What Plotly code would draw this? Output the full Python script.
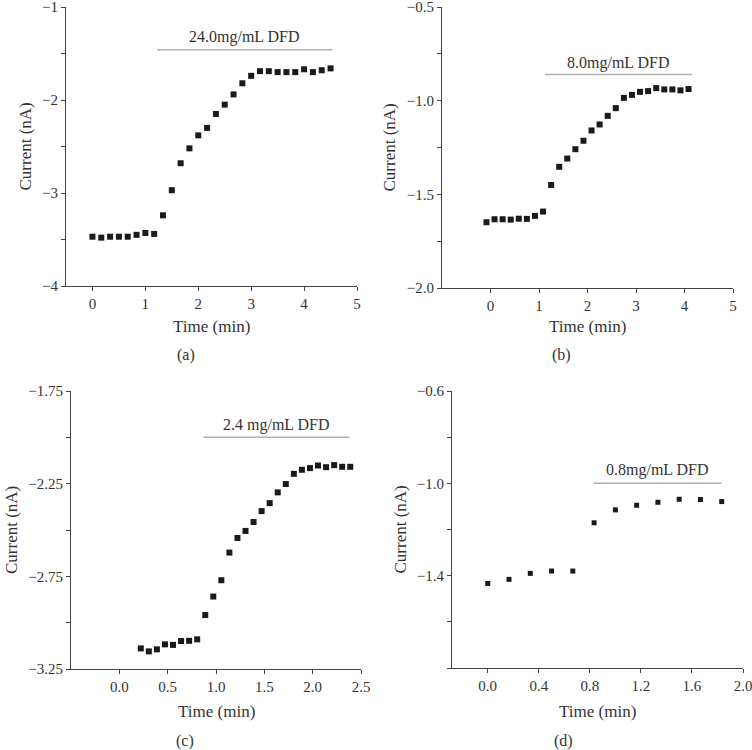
import plotly.graph_objects as go

# ---- data ----
# (a) 24.0 mg/mL DFD, sampled every 10 s
time_a = [i / 6 for i in range(28)]
current_a = [-3.47, -3.48, -3.47, -3.47, -3.47, -3.45, -3.43, -3.44, -3.24, -2.97,
             -2.68, -2.52, -2.38, -2.30, -2.15, -2.05, -1.94, -1.82, -1.74, -1.69,
             -1.69, -1.70, -1.70, -1.70, -1.67, -1.70, -1.68, -1.66]
bar_a = [1.22, 4.54]
bar_level_a = -1.46
label_a = "24.0mg/mL DFD"

# (b) 8.0 mg/mL DFD
time_b = [(i - 0.5) / 6 for i in range(26)]
current_b = [-1.649, -1.633, -1.633, -1.635, -1.630, -1.631, -1.615, -1.592, -1.450, -1.353,
             -1.309, -1.259, -1.214, -1.159, -1.127, -1.081, -1.040, -0.985, -0.969, -0.953,
             -0.949, -0.933, -0.940, -0.940, -0.945, -0.938]
bar_b = [1.12, 4.16]
bar_level_b = -0.86
label_b = "8.0mg/mL DFD"

# (c) 2.4 mg/mL DFD, sampled every 5 s
time_c = [0.222 + i / 12 for i in range(27)]
current_c = [-3.139, -3.155, -3.144, -3.117, -3.120, -3.099, -3.098, -3.090, -2.959, -2.859,
             -2.771, -2.622, -2.543, -2.505, -2.457, -2.398, -2.355, -2.297, -2.252, -2.197,
             -2.175, -2.166, -2.152, -2.161, -2.150, -2.159, -2.159]
bar_c = [0.87, 2.38]
bar_level_c = -2.0
label_c = "2.4 mg/mL DFD"

# (d) 0.8 mg/mL DFD
time_d = [i / 6 for i in range(12)]
current_d = [-1.434, -1.416, -1.390, -1.380, -1.380, -1.171, -1.115, -1.095, -1.082, -1.069,
             -1.070, -1.079]
bar_d = [0.83, 1.83]
bar_level_d = -1.0
label_d = "0.8mg/mL DFD"

# axis ticks
xticks_a = [0, 1, 2, 3, 4, 5]
yticks_a = [-1, -1.5, -2, -2.5, -3, -3.5, -4]
ylabels_a = ["\u22121", "", "\u22122", "", "\u22123", "", "\u22124"]

xticks_b = [0, 1, 2, 3, 4, 5]
yticks_b = [-0.5, -0.75, -1.0, -1.25, -1.5, -1.75, -2.0]
ylabels_b = ["\u22120.5", "", "\u22121.0", "", "\u22121.5", "", "\u22122.0"]

xticks_c = [0.0, 0.5, 1.0, 1.5, 2.0, 2.5]
xlabels_c = ["0.0", "0.5", "1.0", "1.5", "2.0", "2.5"]
yticks_c = [-1.75, -2.0, -2.25, -2.5, -2.75, -3.0, -3.25]
ylabels_c = ["\u22121.75", "", "\u22122.25", "", "\u22122.75", "", "\u22123.25"]

xticks_d = [0.0, 0.4, 0.8, 1.2, 1.6, 2.0]
xlabels_d = ["0.0", "0.4", "0.8", "1.2", "1.6", "2.0"]
yticks_d = [-0.6, -0.8, -1.0, -1.2, -1.4, -1.6, -1.8]
ylabels_d = ["\u22120.6", "", "\u22121.0", "", "\u22121.4", "", ""]

FONT = "Liberation Serif, DejaVu Serif, serif"
TEXT = "#333333"
AXIS = "#444444"
BAR = "#b0b0b0"
MARK = "#1a1a1a"

W, H = 752, 750

panels = [
    dict(t=time_a, c=current_a, bar=bar_a, lvl=bar_level_a, lab=label_a, laby=-1.32,
         xr=[-0.5, 5], yr=[-4, -1], xd=[66, 357], yd=[7, 286], ms=6, cap="(a)",
         xt=xticks_a, xl=[str(v) for v in xticks_a], yt=yticks_a, yl=ylabels_a,
         ytx=25, capx=186, capy=355, timey=327),
    dict(t=time_b, c=current_b, bar=bar_b, lvl=bar_level_b, lab=label_b, laby=-0.80,
         xr=[-1, 5], yr=[-2.0, -0.5], xd=[442, 733], yd=[7, 288], ms=6, cap="(b)",
         xt=xticks_b, xl=[str(v) for v in xticks_b], yt=yticks_b, yl=ylabels_b,
         ytx=389, capx=561, capy=355, timey=327),
    dict(t=time_c, c=current_c, bar=bar_c, lvl=bar_level_c, lab=label_c, laby=-1.935,
         xr=[-0.5, 2.5], yr=[-3.25, -1.75], xd=[71, 361], yd=[391, 669], ms=6, cap="(c)",
         xt=xticks_c, xl=xlabels_c, yt=yticks_c, yl=ylabels_c,
         ytx=11, capx=185, capy=741, timey=711),
    dict(t=time_d, c=current_d, bar=bar_d, lvl=bar_level_d, lab=label_d, laby=-0.944,
         xr=[-0.28, 2.0], yr=[-1.8, -0.6], xd=[452, 743], yd=[391, 668], ms=5, cap="(d)",
         xt=xticks_d, xl=xlabels_d, yt=yticks_d, yl=ylabels_d,
         ytx=400, capx=563, capy=741, timey=711),
]

fig = go.Figure()
annotations = []
layout_axes = {}


def paper_text(x, y, text, size, angle=0):
    return dict(x=x / W, y=1 - y / H, xref="paper", yref="paper", text=text,
                xanchor="center", yanchor="middle", textangle=angle, showarrow=False,
                font=dict(family=FONT, size=size, color=TEXT))


for k, p in enumerate(panels, start=1):
    xa = "x" if k == 1 else f"x{k}"
    ya = "y" if k == 1 else f"y{k}"
    fig.add_trace(go.Scatter(
        x=p["t"], y=p["c"], mode="markers", xaxis=xa, yaxis=ya,
        marker=dict(symbol="square", size=p["ms"], color=MARK),
        showlegend=False, hoverinfo="x+y",
    ))
    fig.add_trace(go.Scatter(
        x=p["bar"], y=[p["lvl"], p["lvl"]], mode="lines", xaxis=xa, yaxis=ya,
        line=dict(color=BAR, width=1.5), showlegend=False, hoverinfo="skip",
    ))
    annotations.append(dict(
        x=sum(p["bar"]) / 2, y=p["laby"], xref=xa, yref=ya, text=p["lab"],
        xanchor="center", yanchor="middle", showarrow=False,
        font=dict(family=FONT, size=16, color=TEXT),
    ))

    xdom = [p["xd"][0] / W, p["xd"][1] / W]
    ydom = [1 - p["yd"][1] / H, 1 - p["yd"][0] / H]
    common = dict(
        showgrid=False, zeroline=False, showline=True, linecolor=AXIS, linewidth=1.2,
        ticks="outside", ticklen=4, tickwidth=1, tickcolor=AXIS, automargin=False,
        ticklabeloverflow="allow",
        tickfont=dict(family=FONT, size=15, color=TEXT),
    )
    layout_axes["xaxis" if k == 1 else f"xaxis{k}"] = dict(
        common, domain=xdom, range=p["xr"], anchor=ya,
        tickmode="array", tickvals=p["xt"], ticktext=p["xl"],
    )
    layout_axes["yaxis" if k == 1 else f"yaxis{k}"] = dict(
        common, domain=ydom, range=p["yr"], anchor=xa,
        tickmode="array", tickvals=p["yt"], ticktext=p["yl"],
    )

    # axis titles and captions
    annotations.append(paper_text((p["xd"][0] + p["xd"][1]) / 2, p["timey"], "Time (min)", 17))
    annotations.append(paper_text(p["ytx"], (p["yd"][0] + p["yd"][1]) / 2, "Current (nA)", 17, -90))
    annotations.append(paper_text(p["capx"], p["capy"], p["cap"], 16))

fig.update_layout(
    width=W, height=H,
    margin=dict(l=0, r=0, t=0, b=0),
    paper_bgcolor="white", plot_bgcolor="white",
    annotations=annotations,
    **layout_axes,
)

# the page body has a default 8px margin; drop it so the figure fills the window
fig.write_html("out.html", config={"displayModeBar": False},
               post_script="document.body.style.margin='0';")
